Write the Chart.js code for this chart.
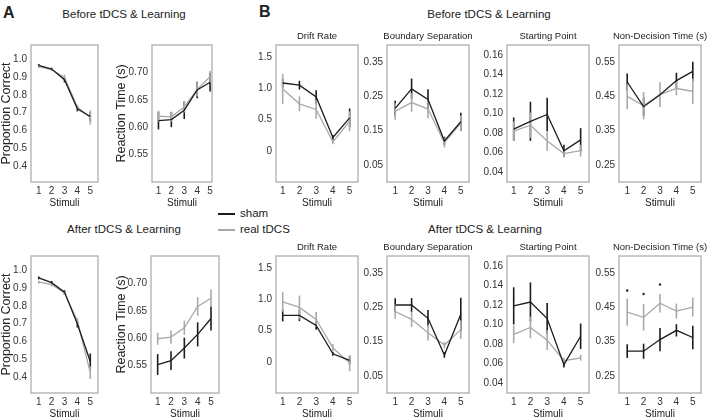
<!DOCTYPE html>
<html>
<head>
<meta charset="utf-8">
<script src="https://cdn.jsdelivr.net/npm/chart.js@4.4.0/dist/chart.umd.min.js"></script>
<style>
  body { margin: 0; width: 708px; height: 418px; position: relative; overflow: hidden; background: #fff;
         font-family: "Liberation Sans", Arial, Helvetica, sans-serif; color: #222; }
  canvas { position: absolute; }
  .txt { position: absolute; white-space: nowrap; line-height: 1; }
  .mid { transform: translateX(-50%); }
  .key { position: absolute; height: 2px; width: 17px; left: 218px; }
</style>
</head>
<body>
<div class="txt" style="left:3px;top:5px;font-size:16px;font-weight:bold">A</div>
<div class="txt" style="left:259px;top:4px;font-size:16px;font-weight:bold">B</div>
<div class="txt mid" style="left:124px;top:9px;font-size:11.5px">Before tDCS &amp; Learning</div>
<div class="txt mid" style="left:489px;top:9px;font-size:11.5px">Before tDCS &amp; Learning</div>
<div class="txt mid" style="left:124px;top:224px;font-size:11.5px">After tDCS &amp; Learning</div>
<div class="txt mid" style="left:485px;top:224px;font-size:11.5px">After tDCS &amp; Learning</div>
<div class="key" style="top:213px;background:#1c1c1c"></div>
<div class="key" style="top:229px;background:#a9a9a9"></div>
<div class="txt" style="left:240px;top:208px;font-size:11.5px">sham</div>
<div class="txt" style="left:240px;top:224px;font-size:11.5px">real tDCS</div>

<script>
// stimulus levels on every x axis
let stimuli = [1, 2, 3, 4, 5];

// ---- A: behaviour, before ----
let pcBeforeSham = [0.965, 0.945, 0.885, 0.722, 0.678];
let pcBeforeShamErr = [0.008, 0.008, 0.015, 0.015, 0.025];
let pcBeforeReal = [0.958, 0.942, 0.898, 0.732, 0.672];
let pcBeforeRealErr = [0.008, 0.008, 0.015, 0.012, 0.04];

let rtBeforeSham = [0.612, 0.614, 0.631, 0.668, 0.682];
let rtBeforeShamErr = [0.016, 0.014, 0.016, 0.015, 0.017];
let rtBeforeReal = [0.620, 0.619, 0.637, 0.669, 0.692];
let rtBeforeRealErr = [0.010, 0.009, 0.010, 0.013, 0.011];

// ---- A: behaviour, after ----
let pcAfterSham = [0.957, 0.93, 0.877, 0.698, 0.487];
let pcAfterShamErr = [0.008, 0.01, 0.012, 0.02, 0.045];
let pcAfterReal = [0.933, 0.92, 0.873, 0.716, 0.424];
let pcAfterRealErr = [0.008, 0.01, 0.012, 0.015, 0.035];

let rtAfterSham = [0.552, 0.559, 0.582, 0.607, 0.636];
let rtAfterShamErr = [0.019, 0.017, 0.019, 0.022, 0.022];
let rtAfterReal = [0.599, 0.602, 0.619, 0.658, 0.673];
let rtAfterRealErr = [0.011, 0.012, 0.013, 0.017, 0.016];

// ---- B: model parameters, before ----
let driftBeforeSham = [1.09, 1.055, 0.865, 0.215, 0.53];
let driftBeforeShamErr = [0.07, 0.07, 0.11, 0.04, 0.15];
let driftBeforeReal = [0.995, 0.755, 0.665, 0.145, 0.475];
let driftBeforeRealErr = [0.24, 0.12, 0.15, 0.04, 0.16];

let boundBeforeSham = [0.215, 0.272, 0.241, 0.120, 0.176];
let boundBeforeShamErr = [0.022, 0.03, 0.03, 0.012, 0.026];
let boundBeforeReal = [0.206, 0.232, 0.213, 0.115, 0.172];
let boundBeforeRealErr = [0.024, 0.027, 0.027, 0.014, 0.022];

let startBeforeSham = [0.084, 0.092, 0.099, 0.062, 0.073];
let startBeforeShamErr = [0.012, 0.02, 0.017, 0.006, 0.012];
let startBeforeReal = [0.082, 0.088, 0.072, 0.059, 0.062];
let startBeforeRealErr = [0.01, 0.013, 0.01, 0.004, 0.006];

let ndtBeforeSham = [0.492, 0.42, 0.455, 0.496, 0.523];
let ndtBeforeShamErr = [0.025, 0.027, 0, 0.023, 0.028];
let ndtBeforeReal = [0.45, 0.423, 0.455, 0.473, 0.465];
let ndtBeforeRealErr = [0.037, 0.04, 0.036, 0.02, 0.037];

// ---- B: model parameters, after ----
let driftAfterSham = [0.745, 0.745, 0.585, 0.13, 0.025];
let driftAfterShamErr = [0.095, 0.09, 0.07, 0.03, 0.07];
let driftAfterReal = [0.965, 0.875, 0.68, 0.225, -0.02];
let driftAfterRealErr = [0.16, 0.19, 0.12, 0.06, 0.13];

let boundAfterSham = [0.257, 0.257, 0.218, 0.111, 0.23];
let boundAfterShamErr = [0.02, 0.02, 0.024, 0.008, 0.048];
let boundAfterReal = [0.238, 0.215, 0.176, 0.14, 0.185];
let boundAfterRealErr = [0.021, 0.022, 0.023, 0.009, 0.027];

let startAfterSham = [0.119, 0.123, 0.106, 0.059, 0.088];
let startAfterShamErr = [0.019, 0.02, 0.016, 0.003, 0.013];
let startAfterReal = [0.090, 0.097, 0.084, 0.063, 0.066];
let startAfterRealErr = [0.009, 0.011, 0.01, 0.003, 0.003];

let ndtAfterSham = [0.322, 0.322, 0.356, 0.383, 0.362];
let ndtAfterShamErr = [0.02, 0.022, 0.034, 0.018, 0.034];
let ndtAfterReal = [0.436, 0.421, 0.462, 0.439, 0.451];
let ndtAfterRealErr = [0.04, 0.039, 0.027, 0.022, 0.028];

// significance markers (after, non-decision time)
let ndtSigStimuli = [1, 2, 3];
let ndtSigY = [0.499, 0.489, 0.517];

// y tick labels
let pcTicks = ['0.4', '0.5', '0.6', '0.7', '0.8', '0.9', '1.0'];
let rtTicks = ['0.55', '0.60', '0.65', '0.70'];
let driftTicks = ['0', '0.5', '1.0', '1.5'];
let boundTicks = ['0.05', '0.15', '0.25', '0.35'];
let startTicks = ['0.04', '0.06', '0.08', '0.10', '0.12', '0.14', '0.16'];
let ndtTicks = ['0.25', '0.35', '0.45', '0.55'];


const FONT = '"Liberation Sans", Arial, Helvetica, sans-serif';
const SHAM = '#1c1c1c';
const REAL = '#a9a9a9';

// grey box round the plot area
const frame = {
    id: 'frame',
    beforeDatasetsDraw(chart) {
        let a = chart.chartArea, c = chart.ctx;
        c.save();
        c.strokeStyle = '#b4b4b4';
        c.lineWidth = 1.4;
        c.strokeRect(a.left, a.top, a.right - a.left, a.bottom - a.top);
        c.restore();
    }
};

// panel title centred over the plot box (may run wider than the box)
const panelTitle = {
    id: 'panelTitle',
    afterDraw(chart, args, opts) {
        if (!opts.text) return;
        let a = chart.chartArea, c = chart.ctx;
        c.save();
        c.fillStyle = '#222';
        c.font = '9.5px ' + FONT;
        c.textAlign = 'center';
        c.textBaseline = 'middle';
        c.fillText(opts.text, (a.left + a.right) / 2, a.top - 9);
        c.restore();
    }
};

// vertical error bars, drawn from each dataset's "errors" array
const errorBars = {
    id: 'errorBars',
    beforeDatasetsDraw(chart) {
        let c = chart.ctx, xs = chart.scales.x, ys = chart.scales.y;
        c.save();
        chart.data.datasets.forEach(ds => {
            if (!ds.errors) return;
            c.strokeStyle = ds.borderColor;
            c.lineWidth = 1.6;
            ds.data.forEach((pt, i) => {
                let e = ds.errors[i];
                if (!e) return;
                let px = xs.getPixelForValue(pt.x);
                c.beginPath();
                c.moveTo(px, ys.getPixelForValue(pt.y - e));
                c.lineTo(px, ys.getPixelForValue(pt.y + e));
                c.stroke();
            });
        });
        c.restore();
    }
};

function series(vals, errs, color) {
    return {
        data: stimuli.map((x, i) => ({x: x, y: vals[i]})),
        errors: errs,
        borderColor: color,
        borderWidth: 1.3,
        pointRadius: 0,
        tension: 0
    };
}

function makePanel(p) {
    let top = p.title ? 15 : 14;
    let right = p.title ? 12 : 6;
    let canvas = document.createElement('canvas');
    canvas.width = p.yW + (p.box[2] - p.box[0]) + right;
    canvas.height = top + (p.box[3] - p.box[1]) + 27;
    canvas.style.left = (p.box[0] - p.yW) + 'px';
    canvas.style.top = (p.box[1] - top) + 'px';
    document.body.appendChild(canvas);

    let datasets = [series(p.sham, p.shamErr, SHAM), series(p.real, p.realErr, REAL)];
    if (p.sigY) {
        datasets.unshift({
            data: p.sigX.map((x, i) => ({x: x, y: p.sigY[i]})),
            showLine: false,
            pointRadius: 1.3,
            pointBorderWidth: 0,
            pointBackgroundColor: '#333'
        });
    }

    new Chart(canvas, {
        type: 'line',
        data: {datasets: datasets},
        options: {
            responsive: false,
            animation: false,
            events: [],
            layout: {padding: {left: 0, right: right, top: top, bottom: 0}},
            plugins: {
                legend: {display: false},
                tooltip: {enabled: false},
                panelTitle: {text: p.title || ''}
            },
            scales: {
                x: {
                    type: 'linear',
                    min: p.xr[0],
                    max: p.xr[1],
                    grid: {display: false, drawTicks: false},
                    border: {display: false},
                    afterBuildTicks: s => { s.ticks = stimuli.map(v => ({value: v})); },
                    afterFit: s => { s.height = 27; },
                    ticks: {padding: 3, color: '#333', autoSkip: false, maxRotation: 0,
                            font: {family: FONT, size: 10}, callback: v => String(v)},
                    title: {display: true, text: 'Stimuli', color: '#222', padding: 0,
                            font: {family: FONT, size: 10, lineHeight: 1.2}}
                },
                y: {
                    type: 'linear',
                    min: p.yr[0],
                    max: p.yr[1],
                    grid: {display: false, drawTicks: false},
                    border: {display: false},
                    afterBuildTicks: s => { s.ticks = p.ticks.map(t => ({value: Number(t)})); },
                    afterFit: s => { s.width = p.yW; },
                    ticks: {padding: 4, color: '#333', autoSkip: false,
                            font: {family: FONT, size: 10}, callback: (v, i) => p.ticks[i]},
                    title: {display: !!p.ytitle, text: p.ytitle || '', color: '#222', padding: 0,
                            font: {family: FONT, size: 12.5, lineHeight: 1}}
                }
            }
        },
        plugins: [frame, errorBars, panelTitle]
    });
}

const TOP = [45, 182], BOT = [256, 393];

let panels = [
    // before
    {box: [31, TOP[0], 98, TOP[1]], yW: 31, ytitle: 'Proportion Correct', xr: [0.4, 5.6], yr: [0.31, 1.08], ticks: pcTicks,
     sham: pcBeforeSham, shamErr: pcBeforeShamErr, real: pcBeforeReal, realErr: pcBeforeRealErr},
    {box: [152, TOP[0], 212, TOP[1]], yW: 37, ytitle: 'Reaction Time (s)', xr: [0.5, 5.15], yr: [0.5, 0.75], ticks: rtTicks,
     sham: rtBeforeSham, shamErr: rtBeforeShamErr, real: rtBeforeReal, realErr: rtBeforeRealErr},
    {box: [276, TOP[0], 358, TOP[1]], yW: 36, title: 'Drift Rate', xr: [0.6, 5.5], yr: [-0.5, 1.7], ticks: driftTicks,
     sham: driftBeforeSham, shamErr: driftBeforeShamErr, real: driftBeforeReal, realErr: driftBeforeRealErr},
    {box: [387, TOP[0], 469, TOP[1]], yW: 36, title: 'Boundary Separation', xr: [0.5, 5.5], yr: [0, 0.4], ticks: boundTicks,
     sham: boundBeforeSham, shamErr: boundBeforeShamErr, real: boundBeforeReal, realErr: boundBeforeRealErr},
    {box: [507, TOP[0], 589, TOP[1]], yW: 36, title: 'Starting Point', xr: [0.6, 5.5], yr: [0.03, 0.17], ticks: startTicks,
     sham: startBeforeSham, shamErr: startBeforeShamErr, real: startBeforeReal, realErr: startBeforeRealErr},
    {box: [619, TOP[0], 701, TOP[1]], yW: 36, title: 'Non-Decision Time (s)', xr: [0.5, 5.5], yr: [0.2, 0.6], ticks: ndtTicks,
     sham: ndtBeforeSham, shamErr: ndtBeforeShamErr, real: ndtBeforeReal, realErr: ndtBeforeRealErr},
    // after
    {box: [31, BOT[0], 98, BOT[1]], yW: 31, ytitle: 'Proportion Correct', xr: [0.4, 5.6], yr: [0.31, 1.08], ticks: pcTicks,
     sham: pcAfterSham, shamErr: pcAfterShamErr, real: pcAfterReal, realErr: pcAfterRealErr},
    {box: [151, BOT[0], 219, BOT[1]], yW: 36, ytitle: 'Reaction Time (s)', xr: [0.5, 5.6], yr: [0.5, 0.75], ticks: rtTicks,
     sham: rtAfterSham, shamErr: rtAfterShamErr, real: rtAfterReal, realErr: rtAfterRealErr},
    {box: [276, BOT[0], 358, BOT[1]], yW: 36, title: 'Drift Rate', xr: [0.6, 5.5], yr: [-0.5, 1.7], ticks: driftTicks,
     sham: driftAfterSham, shamErr: driftAfterShamErr, real: driftAfterReal, realErr: driftAfterRealErr},
    {box: [387, BOT[0], 469, BOT[1]], yW: 36, title: 'Boundary Separation', xr: [0.5, 5.5], yr: [0, 0.4], ticks: boundTicks,
     sham: boundAfterSham, shamErr: boundAfterShamErr, real: boundAfterReal, realErr: boundAfterRealErr},
    {box: [507, BOT[0], 589, BOT[1]], yW: 36, title: 'Starting Point', xr: [0.6, 5.5], yr: [0.03, 0.17], ticks: startTicks,
     sham: startAfterSham, shamErr: startAfterShamErr, real: startAfterReal, realErr: startAfterRealErr},
    {box: [619, BOT[0], 701, BOT[1]], yW: 36, title: 'Non-Decision Time (s)', xr: [0.5, 5.5], yr: [0.2, 0.6], ticks: ndtTicks,
     sham: ndtAfterSham, shamErr: ndtAfterShamErr, real: ndtAfterReal, realErr: ndtAfterRealErr,
     sigX: ndtSigStimuli, sigY: ndtSigY}
];

panels.forEach(makePanel);
</script>
</body>
</html>
